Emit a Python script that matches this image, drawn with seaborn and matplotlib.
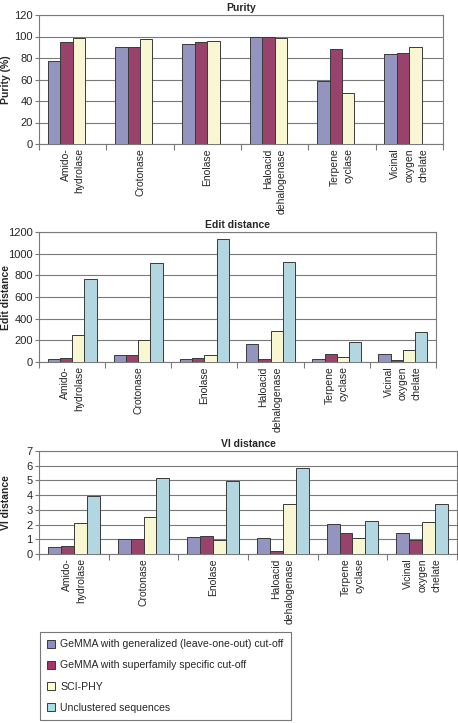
import numpy as np
import pandas as pd
import seaborn as sns
import matplotlib.pyplot as plt
from matplotlib.patches import Patch

# ---- data ----
families = ["Amido-\nhydrolase", "Crotonase", "Enolase", "Haloacid\ndehalogenase",
            "Terpene\ncyclase", "Vicinal\noxygen\nchelate"]
methods = ["GeMMA with generalized (leave-one-out) cut-off",
           "GeMMA with superfamily specific cut-off",
           "SCI-PHY",
           "Unclustered sequences"]
colors = ["#8C8CC8", "#A8336A", "#FFFCCC", "#AADCE8"]

purity_gen = [77, 90, 93, 100, 59, 84]
purity_sf = [95, 90, 95, 100, 88, 85]
purity_sciphy = [99, 98, 96, 99, 47, 90]
purity_uncl = [np.nan] * 6

edit_gen = [25, 68, 31, 169, 31, 77]
edit_sf = [40, 68, 40, 31, 77, 22]
edit_sciphy = [252, 206, 68, 289, 49, 114]
edit_uncl = [769, 917, 1138, 926, 188, 280]

vi_gen = [0.45, 1.0, 1.15, 1.08, 2.05, 1.44]
vi_sf = [0.54, 1.0, 1.22, 0.2, 1.44, 0.97]
vi_sciphy = [2.1, 2.5, 0.97, 3.41, 1.08, 2.19]
vi_uncl = [3.97, 5.17, 4.97, 5.85, 2.23, 3.41]


def long_table(*series):
    rows = []
    for m, vals in zip(methods, series):
        for f, v in zip(families, vals):
            rows.append({"family": f, "method": m, "value": v})
    return pd.DataFrame(rows)


sns.set_theme(style="white")
plt.rcParams["font.family"] = ["Liberation Sans", "DejaVu Sans"]

W, H = 458, 723
fig = plt.figure(figsize=(W / 100, H / 100), dpi=100)


def px_axes(x0, x1, y0, y1):
    return fig.add_axes([x0 / W, 1 - y1 / H, (x1 - x0) / W, (y1 - y0) / H])


panels = [
    ("Purity", "Purity (%)", long_table(purity_gen, purity_sf, purity_sciphy, purity_uncl),
     np.arange(0, 121, 20), (39, 443, 15, 144)),
    ("Edit distance", "Edit distance", long_table(edit_gen, edit_sf, edit_sciphy, edit_uncl),
     np.arange(0, 1201, 200), (39, 436, 232, 362)),
    ("VI distance", "VI distance", long_table(vi_gen, vi_sf, vi_sciphy, vi_uncl),
     np.arange(0, 8, 1), (39, 457, 451, 554)),
]

grid_col = "#7a7a7a"
for title, ylabel, df, yticks, box in panels:
    ax = px_axes(*box)
    sns.barplot(data=df, x="family", y="value", hue="method", hue_order=methods,
                palette=colors, width=0.74, gap=0, errorbar=None,
                edgecolor="#3a3a3a", linewidth=0.7, legend=False, ax=ax, zorder=3)
    ax.set_xlim(-0.5, len(families) - 0.5)
    ax.set_ylim(yticks[0], yticks[-1])
    ax.set_yticks(yticks)
    ax.yaxis.grid(True, color=grid_col, linewidth=0.8, zorder=0)
    ax.set_axisbelow(True)
    for s in ax.spines.values():
        s.set_color(grid_col)
        s.set_linewidth(0.8)
    ax.set_xticks(range(len(families)))
    ax.set_xticklabels(families, rotation=90, va="top", ha="center",
                       multialignment="right", fontsize=7.5, linespacing=1.5)
    ax.set_xticks(np.arange(-0.5, len(families), 1), minor=True)
    ax.tick_params(axis="x", which="major", length=0, pad=3)
    ax.tick_params(axis="x", which="minor", length=4, width=0.8, color=grid_col,
                   direction="out", bottom=True)
    ax.tick_params(axis="y", length=3, width=0.8, color=grid_col, left=True,
                   direction="out", labelsize=8, pad=1.5)
    ax.set_xlabel("")
    ax.set_ylabel(ylabel, fontsize=7.5, fontweight="bold")
    x0, x1 = box[0], box[1]
    ax.yaxis.set_label_coords((1 - x0) / (x1 - x0), 0.5)
    ax.yaxis.label.set_va("top")
    ax.set_title(title, fontsize=7.5, fontweight="bold", pad=3)

handles = [Patch(facecolor=c, edgecolor="#3a3a3a", linewidth=0.7) for c in colors]
leg = fig.legend(handles, methods, loc="upper left",
                 bbox_to_anchor=(40 / W, 1 - 632 / H), borderaxespad=0,
                 fontsize=7.6, frameon=True, fancybox=False,
                 handlelength=0.75, handleheight=0.75, handletextpad=0.45,
                 labelspacing=1.05, borderpad=0.7)
leg.get_frame().set_edgecolor("#555555")
leg.get_frame().set_linewidth(0.8)

fig.savefig("out.png", dpi=100)
